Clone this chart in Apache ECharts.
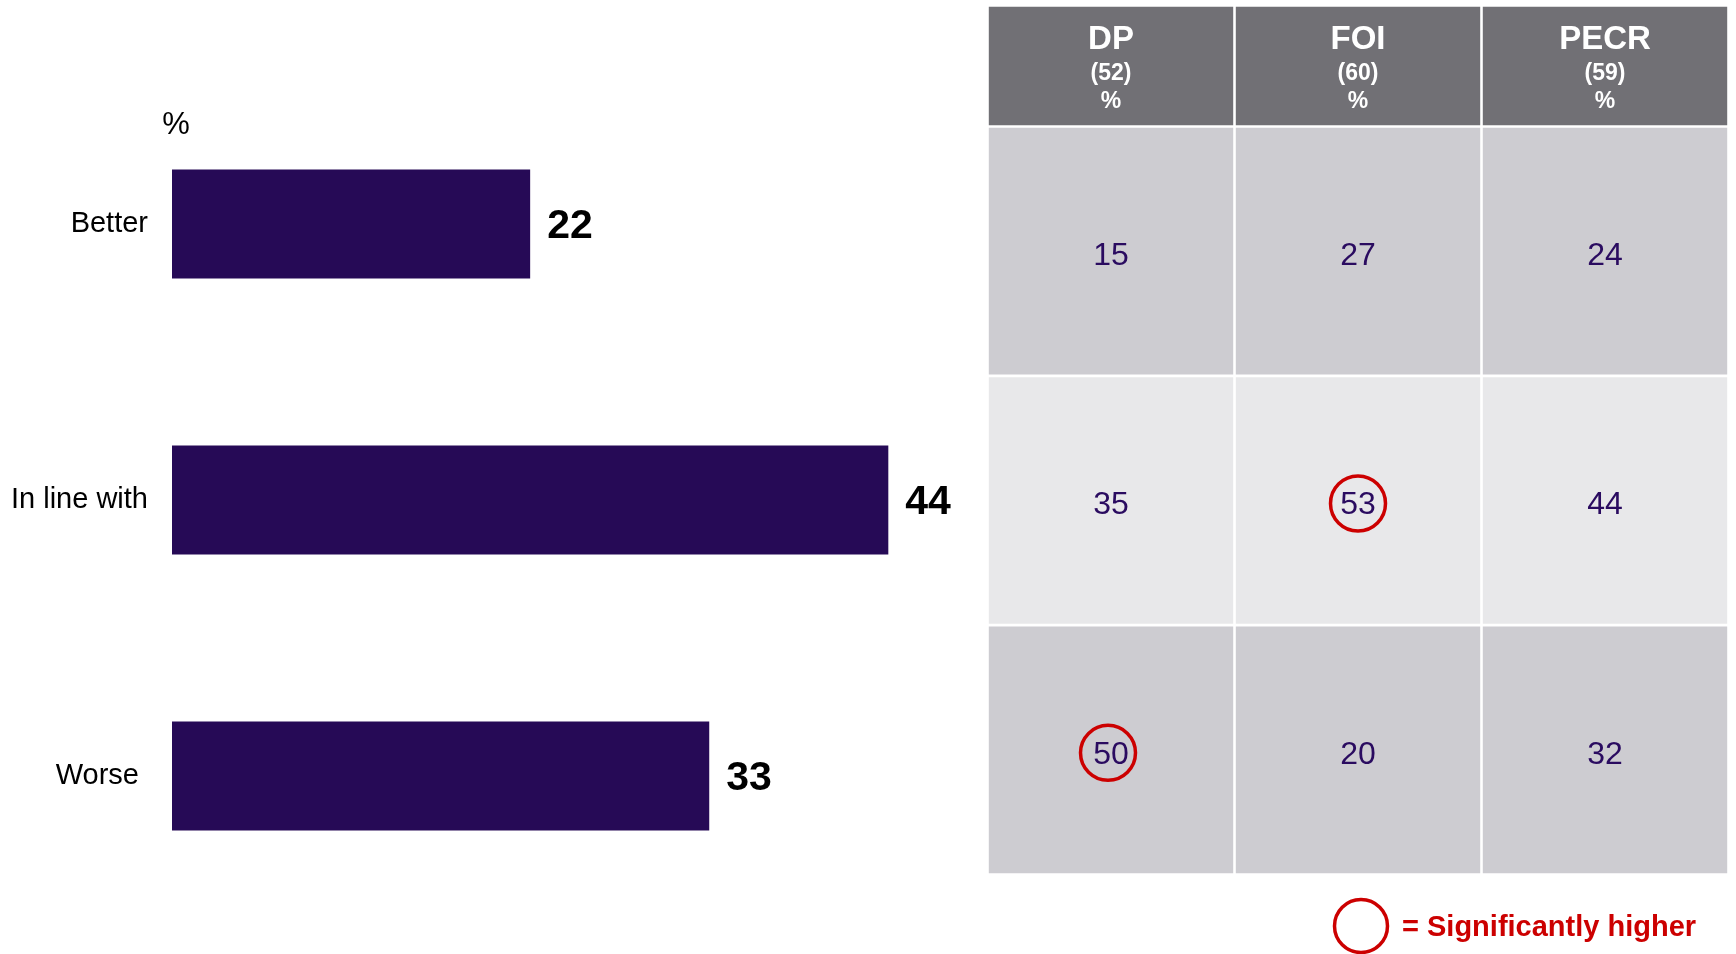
<!DOCTYPE html>
<html>
<head>
<meta charset="utf-8">
<script src="https://cdn.jsdelivr.net/npm/echarts@6/dist/echarts.min.js"></script>
<style>
  html, body { margin: 0; padding: 0; background: #fff; }
  #main { width: 1736px; height: 954px; }
</style>
</head>
<body>
<div id="main"></div>
<script>
var categories = ['Better', 'In line with', 'Worse'];
var overall = [22, 44, 33];

var groups = ['DP', 'FOI', 'PECR'];
var bases = [52, 60, 59];
var dpValues = [15, 35, 50];
var foiValues = [27, 53, 20];
var pecrValues = [24, 44, 32];
// [group index, row index] marked significantly higher
var significant = [[0, 2], [1, 1]];

var FONT = '"Liberation Sans", Arial, sans-serif';
var rowColors = ['#cdccd1', '#e8e8ea', '#cdccd1'];

function isSig(col, row) {
  for (var i = 0; i < significant.length; i++) {
    if (significant[i][0] == col && significant[i][1] == row) return 1;
  }
  return 0;
}

var cells = [];
[dpValues, foiValues, pecrValues].forEach(function(vals, col) {
  vals.forEach(function(v, row) {
    cells.push([col, row, v, isSig(col, row)]);
  });
});
var headers = bases.map(function(b, col) { return [col, 0, b]; });

// the "Worse" label sits a little further in than the others
var catItems = categories.map(function(c) {
  return c == 'Worse' ? { value: c, textStyle: { padding: [0, 9, 0, 0] } } : c;
});

var myChart = echarts.init(document.getElementById('main'));

option = {
  animation: false,
  backgroundColor: '#fff',
  grid: [
    { left: 172, top: 86, width: 814, height: 828 },
    { left: 987.5, top: 126.5, width: 741, height: 748 },
    { left: 987.5, top: 5.5, width: 741, height: 121 }
  ],
  xAxis: [
    { gridIndex: 0, type: 'value', min: 0, max: 50, show: false },
    { gridIndex: 1, type: 'category', data: groups, show: false },
    { gridIndex: 2, type: 'category', data: groups, show: false }
  ],
  yAxis: [
    {
      gridIndex: 0, type: 'category', data: catItems, inverse: true,
      axisLine: { show: false }, axisTick: { show: false },
      axisLabel: { fontSize: 29, color: '#000', margin: 24, fontFamily: FONT }
    },
    { gridIndex: 1, type: 'category', data: categories, inverse: true, show: false },
    { gridIndex: 2, type: 'category', data: ['header'], show: false }
  ],
  graphic: [
    {
      type: 'text', x: 176, y: 125,
      style: { text: '%', font: '31px ' + FONT, fill: '#000', align: 'center', verticalAlign: 'middle' }
    },
    {
      type: 'circle', shape: { cx: 1361, cy: 926, r: 26.5 },
      style: { fill: 'none', stroke: '#cc0000', lineWidth: 3.5 }
    },
    {
      type: 'text', x: 1402, y: 928,
      style: { text: '= Significantly higher', font: 'bold 29px ' + FONT, fill: '#cc0000', verticalAlign: 'middle' }
    }
  ],
  series: [
    {
      type: 'bar',
      xAxisIndex: 0, yAxisIndex: 0,
      data: overall,
      barWidth: 109,
      itemStyle: { color: '#260a56' },
      label: {
        show: true, position: 'right', distance: 17, offset: [0, 3],
        fontSize: 41, fontWeight: 'bold', color: '#000', fontFamily: FONT
      }
    },
    {
      type: 'custom',
      xAxisIndex: 1, yAxisIndex: 1,
      data: cells,
      renderItem: function(params, api) {
        var c = api.coord([api.value(0), api.value(1)]);
        var s = api.size([1, 1]);
        var kids = [
          {
            type: 'rect',
            shape: { x: c[0] - s[0] / 2 + 1.3, y: c[1] - s[1] / 2 + 1.3, width: s[0] - 2.6, height: s[1] - 2.6 },
            style: { fill: rowColors[api.value(1)] }
          },
          {
            type: 'text', x: c[0], y: c[1] + 5,
            style: {
              text: String(api.value(2)), font: '32px ' + FONT, fill: '#2a0b60',
              align: 'center', verticalAlign: 'middle'
            }
          }
        ];
        if (api.value(3)) {
          kids.push({
            type: 'circle',
            shape: { cx: c[0] - (api.value(0) == 0 ? 3 : 0), cy: c[1] + 3, r: 27.5 },
            style: { fill: 'none', stroke: '#cc0000', lineWidth: 3.5 }
          });
        }
        return { type: 'group', children: kids };
      }
    },
    {
      type: 'custom',
      xAxisIndex: 2, yAxisIndex: 2,
      data: headers,
      renderItem: function(params, api) {
        var c = api.coord([api.value(0), api.value(1)]);
        var s = api.size([1, 1]);
        var top = c[1] - s[1] / 2;
        return {
          type: 'group',
          children: [
            {
              type: 'rect',
              shape: { x: c[0] - s[0] / 2 + 1.3, y: top + 1.2, width: s[0] - 2.6, height: s[1] - 2.4 },
              style: { fill: '#717075' }
            },
            {
              type: 'text', x: c[0], y: top + 34,
              style: { text: groups[api.value(0)], font: 'bold 33px ' + FONT, fill: '#fff', align: 'center', verticalAlign: 'middle' }
            },
            {
              type: 'text', x: c[0], y: top + 68.5,
              style: { text: '(' + api.value(2) + ')', font: 'bold 23px ' + FONT, fill: '#fff', align: 'center', verticalAlign: 'middle' }
            },
            {
              type: 'text', x: c[0], y: top + 96.5,
              style: { text: '%', font: 'bold 23px ' + FONT, fill: '#fff', align: 'center', verticalAlign: 'middle' }
            }
          ]
        };
      }
    }
  ]
};
myChart.setOption(option);
</script>
</body>
</html>
